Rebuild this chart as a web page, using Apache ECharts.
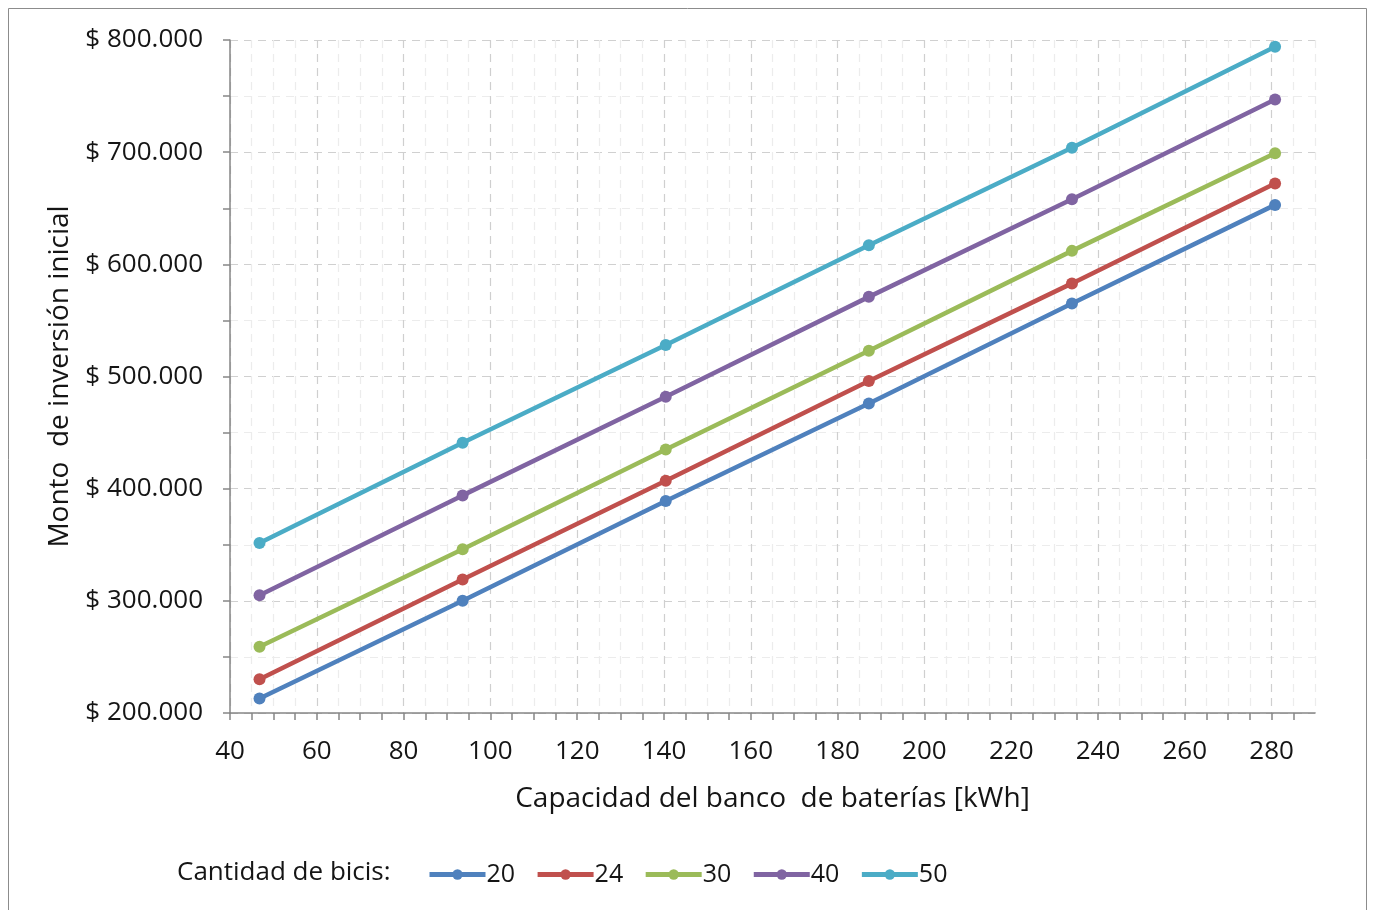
<!DOCTYPE html>
<html>
<head>
<meta charset="utf-8">
<script src="https://cdn.jsdelivr.net/npm/echarts@6/dist/echarts.min.js"></script>
<style>
html,body{margin:0;padding:0;background:#fff;}
#chart{width:1373px;height:910px;}
</style>
</head>
<body>
<div id="chart"></div>
<script>
const capacities = [46.8, 93.6, 140.4, 187.2, 234, 280.8];
const seriesNames = ['20', '24', '30', '40', '50'];
const bicis20 = [213000, 300000, 389000, 476000, 565000, 653000];
const bicis24 = [230000, 319000, 407000, 496000, 583000, 672000];
const bicis30 = [259000, 346000, 435000, 523000, 612000, 699000];
const bicis40 = [305000, 394000, 482000, 571000, 658000, 747000];
const bicis50 = [351500, 441000, 528000, 617000, 704000, 794000];
const seriesValues = [bicis20, bicis24, bicis30, bicis40, bicis50];
const colors = ['#4F81BD', '#C0504D', '#9BBB59', '#8064A2', '#4BACC6'];

const font = '"Open Sans", Lato, sans-serif';
const textColor = '#151515';
const chart = echarts.init(document.getElementById('chart'));

function fmtMoney(v) {
  return '$ ' + String(Math.round(v)).replace(/\B(?=(\d{3})+(?!\d))/g, '.');
}

chart.setOption({
  animation: false,
  color: colors,
  grid: { left: 230, right: 58, top: 40, bottom: 197, containLabel: false },
  graphic: [
    { type: 'rect', shape: { x: 8.5, y: 8.5, width: 1358, height: 930 },
      style: { fill: 'none', stroke: '#8c8c8c', lineWidth: 1 }, silent: true },
    { type: 'text', left: 177, top: 860,
      style: { text: 'Cantidad de bicis:', font: '26px ' + font, fill: textColor } }
  ],
  legend: {
    left: 427, top: 862, padding: 0,
    itemWidth: 56, itemHeight: 13, itemGap: 20,
    lineStyle: { width: 5 },
    textStyle: { fontFamily: font, fontSize: 25, color: textColor, padding: [0, 0, 0, -4] },
    data: seriesNames
  },
  xAxis: {
    type: 'value', min: 40, max: 290, interval: 5,
    name: 'Capacidad del banco  de baterías [kWh]',
    nameLocation: 'middle', nameGap: 72,
    nameTextStyle: { fontFamily: font, fontSize: 28, color: textColor },
    axisLine: { show: true, onZero: false, lineStyle: { color: '#868686', width: 1.5 } },
    axisTick: { show: true, length: 7, lineStyle: { color: '#868686', width: 1.5 } },
    axisLabel: {
      fontFamily: font, fontSize: 26, color: textColor, margin: 26,
      showMaxLabel: false,
      formatter: v => (v % 20 === 0 ? String(v) : '')
    },
    splitLine: { show: true, lineStyle: { type: [8, 6], width: 1.2,
      color: ['#cfcfcf', '#ececec', '#ececec', '#ececec'] } }
  },
  yAxis: {
    type: 'value', min: 200000, max: 800000, interval: 50000,
    name: 'Monto  de inversión inicial',
    nameLocation: 'middle', nameGap: 156, nameRotate: 90,
    nameTextStyle: { fontFamily: font, fontSize: 28, color: textColor },
    axisLine: { show: true, lineStyle: { color: '#868686', width: 1.5 } },
    axisTick: { show: true, length: 7, lineStyle: { color: '#868686', width: 1.5 } },
    axisLabel: {
      fontFamily: font, fontSize: 26, color: textColor, margin: 27,
      formatter: v => (v % 100000 === 0 ? fmtMoney(v) : '')
    },
    splitLine: { show: true, lineStyle: { type: [8, 6], width: 1.2,
      color: ['#d0d0d0', '#ececec'] } }
  },
  series: seriesNames.map((name, i) => ({
    name: name,
    type: 'line',
    data: capacities.map((c, j) => [c, seriesValues[i][j]]),
    symbol: 'circle', symbolSize: 12,
    lineStyle: { width: 4.5, color: colors[i] },
    itemStyle: { color: colors[i] }
  }))
});
</script>
</body>
</html>
